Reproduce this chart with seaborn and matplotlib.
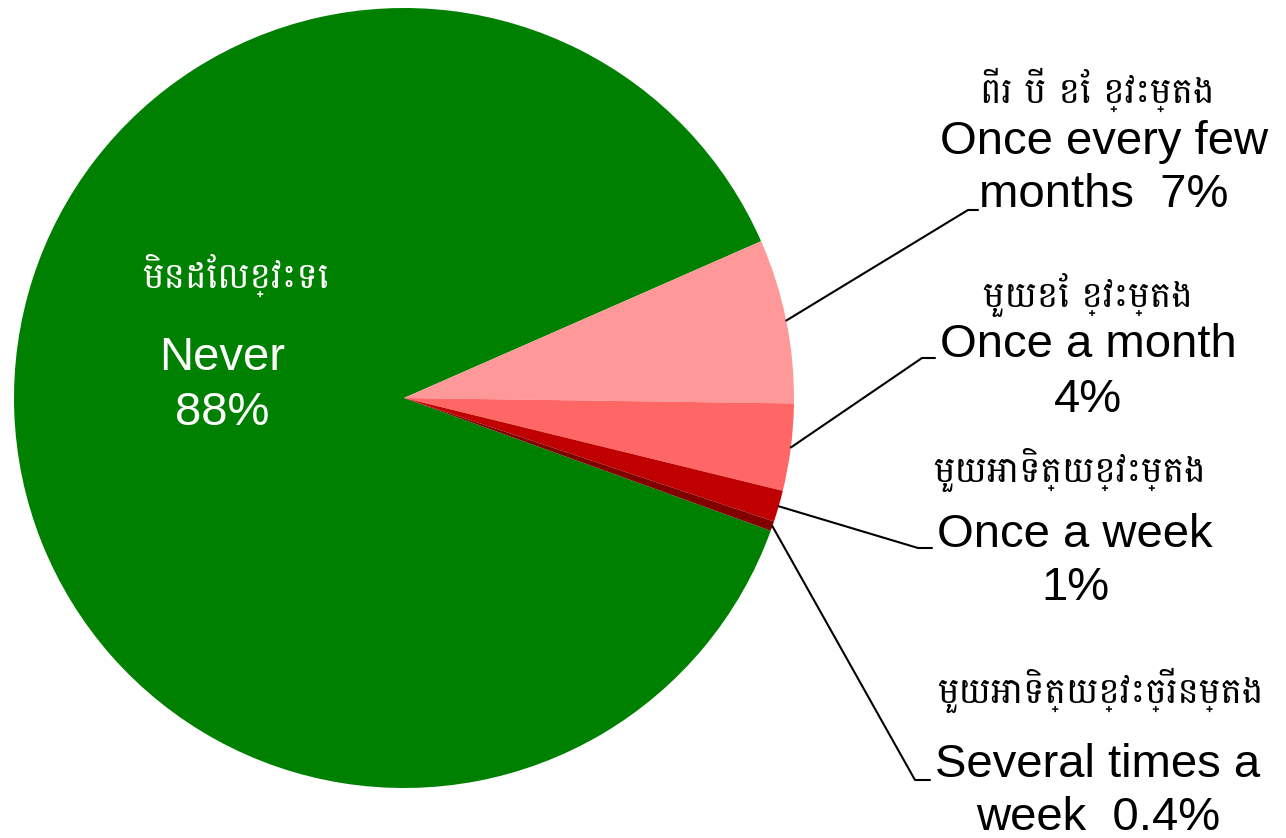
import numpy as np
import matplotlib
matplotlib.use("Agg")
import matplotlib.pyplot as plt
import seaborn as sns

sns.set_theme(style="white")
plt.rcParams['font.family'] = ['Liberation Sans', 'Battambang', 'DejaVu Sans']
KM = ['Battambang', 'Khmer', 'DejaVu Sans']

# Data
categories_en = ["Never", "Once every few months", "Once a month", "Once a week", "Several times a week"]
categories_km = ["មិនដែលខ្វះទេ", "ពីរ បី ខែ ខ្វះម្តង", "មួយខែ ខ្វះម្តង", "មួយអាទិត្យខ្វះម្តង", "មួយអាទិត្យខ្វះច្រើនម្តង"]
values = [87.8, 6.8, 3.6, 1.3, 0.4]
pct_labels = ["88%", "7%", "4%", "1%", "0.4%"]
colors = ["#008000", "#FF9999", "#FF6666", "#C00000", "#800000"]

W, H = 1286, 838
fig = plt.figure(figsize=(W / 100, H / 100), dpi=100)
ax = fig.add_axes([0, 0, 1, 1])
cx, cy, R = 404, 398, 390

def d(px, py):
    return (px - cx) / R, (cy - py) / R

wedges, _ = ax.pie(values, colors=colors, startangle=-19.9, counterclock=False,
                   radius=1, wedgeprops=dict(linewidth=0))
ax.set_xlim(-cx / R, (W - cx) / R)
ax.set_ylim(-(H - cy) / R, cy / R)
ax.set_aspect("equal")
ax.axis("off")

fs = 34
kfs = 26
# Never label
x, y = d(236, 275)
ax.text(x, y, categories_km[0], color="white", fontsize=kfs, ha="center", va="center", family=KM)
x, y = d(222, 358)
ax.text(x, y, categories_en[0], color="white", fontsize=fs, ha="center", va="center")
x, y = d(222, 413)
ax.text(x, y, pct_labels[0], color="white", fontsize=fs, ha="center", va="center")

# Outer labels
label_layout = [
    (None),
    ((1097, 90), ("Once every few", (1104, 142)), ("months  " + pct_labels[1], (1104, 195)), (968, 210), (978, 210)),
    ((1088, 295), ("Once a month", (1088, 345)), (pct_labels[2], (1088, 400)), (922, 358), (935, 358)),
    ((1070, 470), ("Once a week", (1075, 535)), (pct_labels[3], (1075, 588)), (918, 548), (932, 548)),
    ((1100, 690), ("Several times a", (1098, 765)), ("week  " + pct_labels[4], (1098, 818)), (915, 780), (930, 780)),
]
for i in range(1, 5):
    kmpos, l1, l2, elbow, end = label_layout[i]
    x, y = d(*kmpos)
    ax.text(x, y, categories_km[i], color="black", fontsize=kfs, ha="center", va="center", family=KM)
    for txt, pos in (l1, l2):
        x, y = d(*pos)
        ax.text(x, y, txt, color="black", fontsize=fs, ha="center", va="center")
    w = wedges[i]
    mid = np.deg2rad((w.theta1 + w.theta2) / 2)
    ex, ey = np.cos(mid), np.sin(mid)
    bx, by = d(*elbow)
    fx, fy = d(*end)
    ax.plot([ex, bx, fx], [ey, by, fy], color="black", lw=1.5)

fig.savefig("out.png", dpi=100)
